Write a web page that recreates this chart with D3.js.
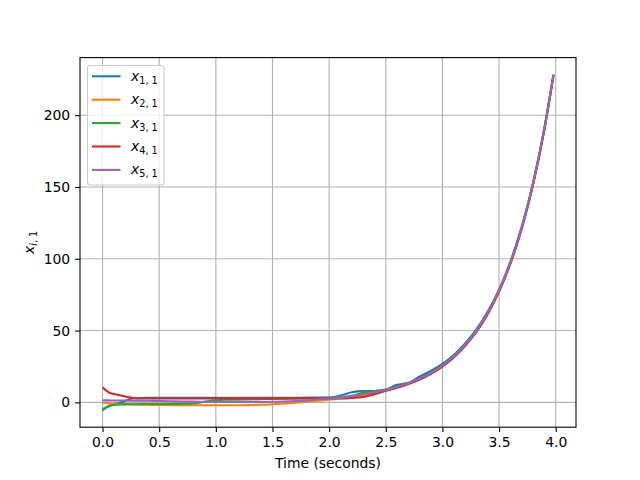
<!DOCTYPE html>
<html>
<head>
<meta charset="utf-8">
<script src="https://cdn.jsdelivr.net/npm/d3@7"></script>
<style>
  html, body { margin: 0; padding: 0; background: #ffffff; }
  svg { display: block; }
  text { font-family: "DejaVu Sans", sans-serif; }
</style>
</head>
<body>
<svg id="chart" width="640" height="480"></svg>
<script>
// ---- data ----
const time = [0, 0.05, 0.1, 0.15, 0.2, 0.25, 0.3, 0.4, 0.5, 0.6, 0.7, 0.8, 0.9, 1.0, 1.1, 1.2, 1.3, 1.4, 1.5, 1.6, 1.7, 1.8, 1.9, 2.0, 2.1, 2.2, 2.3, 2.4, 2.5, 2.6, 2.7, 2.8, 2.9, 3.0, 3.1, 3.2, 3.3, 3.4, 3.5, 3.6, 3.7, 3.8, 3.9, 3.98];

const x11 = [-5.6, -2.6, -1.3, -0.4, 1.0, 2.6, 3.0, 3.1, 3.1, 3.1, 3.1, 3.1, 3.1, 3.1, 3.1, 3.1, 3.1, 3.2, 3.2, 3.2, 3.2, 3.3, 3.3, 3.4, 4.8, 7.0, 7.8, 7.9, 8.9, 12.2, 13.6, 18.0, 22.0, 26.8, 33.0, 41.0, 50.8, 63.2, 78.7, 98.0, 122.4, 153.0, 191.2, 228.4];
const x21 = [-0.3, -0.6, -0.9, -1.1, -1.3, -1.4, -1.5, -1.7, -1.8, -1.9, -2.0, -2.0, -2.0, -2.0, -2.0, -2.0, -1.9, -1.7, -1.3, -0.8, -0.2, 0.4, 1.1, 1.8, 2.5, 3.3, 4.5, 6.3, 8.5, 10.5, 13.1, 16.3, 20.3, 25.3, 31.6, 39.6, 49.5, 61.9, 77.5, 96.9, 121.3, 151.9, 190.2, 227.8];
const x31 = [-4.6, -3.0, -1.9, -1.5, -1.4, -1.3, -1.3, -1.2, -1.2, -1.1, -1.0, -0.8, 0.4, 1.5, 1.8, 1.9, 2.0, 2.2, 2.4, 2.6, 2.8, 2.9, 3.0, 3.1, 3.6, 4.6, 6.6, 7.8, 8.8, 10.9, 13.5, 16.9, 20.9, 25.9, 32.2, 40.2, 50.1, 62.5, 78.1, 97.5, 121.9, 152.5, 190.8, 228.1];
const x41 = [10.6, 7.2, 5.8, 5.0, 4.1, 3.3, 2.8, 2.7, 2.7, 2.7, 2.7, 2.7, 2.7, 2.7, 2.7, 2.8, 2.8, 2.8, 2.8, 2.8, 2.8, 2.8, 2.8, 2.8, 2.9, 3.1, 3.7, 5.6, 8.0, 10.1, 12.7, 15.9, 19.9, 24.9, 31.2, 39.2, 49.0, 61.4, 77.0, 96.4, 120.8, 151.4, 189.8, 227.5];
const x51 = [1.4, 1.4, 1.3, 1.3, 1.3, 1.2, 1.2, 1.1, 1.0, 0.8, 0.6, 0.5, 0.4, 0.3, 0.3, 0.3, 0.3, 0.3, 0.4, 0.6, 0.9, 1.4, 2.0, 2.6, 3.3, 4.3, 5.6, 7.0, 8.6, 10.7, 13.3, 16.6, 20.6, 25.6, 31.9, 39.9, 49.8, 62.2, 77.8, 97.2, 121.6, 152.2, 190.5, 228.0];

const seriesSubs = ["1, 1", "2, 1", "3, 1", "4, 1", "5, 1"];
const seriesColors = ["#1f77b4", "#ff7f0e", "#2ca02c", "#d62728", "#9467bd"];
const xTicks = [0, 0.5, 1.0, 1.5, 2.0, 2.5, 3.0, 3.5, 4.0];
const yTicks = [0, 50, 100, 150, 200];
const xLabel = "Time (seconds)";

// ---- layout ----
const W = 640, H = 480;
const L = 80, R = 576, T = 57.6, B = 427.2;

const seriesValues = [x11, x21, x31, x41, x51];
const series = seriesValues.map((vals, i) => ({
  sub: seriesSubs[i], color: seriesColors[i],
  pts: vals.map((v, j) => [time[j], v])
}));

const tExt = d3.extent(time);
const allV = seriesValues.flat();
const vExt = d3.extent(allV);
const tPad = (tExt[1] - tExt[0]) * 0.05;
const vPad = (vExt[1] - vExt[0]) * 0.05;

const x = d3.scaleLinear().domain([tExt[0] - tPad, tExt[1] + tPad]).range([L, R]);
const y = d3.scaleLinear().domain([vExt[0] - vPad, vExt[1] + vPad]).range([B, T]);

const svg = d3.select("#chart");
svg.append("rect").attr("width", W).attr("height", H).attr("fill", "#fff");

// grid
const grid = svg.append("g");
xTicks.forEach(t => {
  grid.append("line").attr("x1", x(t)).attr("x2", x(t)).attr("y1", T).attr("y2", B)
    .attr("stroke", "#b0b0b0").attr("stroke-width", 1.1);
});
yTicks.forEach(t => {
  grid.append("line").attr("x1", L).attr("x2", R).attr("y1", y(t)).attr("y2", y(t))
    .attr("stroke", "#b0b0b0").attr("stroke-width", 1.1);
});

// clip
svg.append("clipPath").attr("id", "clip").append("rect")
  .attr("x", L).attr("y", T).attr("width", R - L).attr("height", B - T);

const line = d3.line().x(d => x(d[0])).y(d => y(d[1])).curve(d3.curveMonotoneX);
const lines = svg.append("g").attr("clip-path", "url(#clip)");
series.forEach(s => {
  lines.append("path").attr("d", line(s.pts)).attr("fill", "none")
    .attr("stroke", s.color).attr("stroke-width", 2.08)
    .attr("stroke-linejoin", "round").attr("stroke-linecap", "butt");
});

// axes
const xAxis = d3.axisBottom(x).tickValues(xTicks).tickFormat(d3.format(".1f")).tickSize(4.9).tickPadding(4.9);
const yAxis = d3.axisLeft(y).tickValues(yTicks).tickFormat(d3.format("d")).tickSize(4.9).tickPadding(4.9);

const gx = svg.append("g").attr("transform", `translate(0,${B})`).call(xAxis);
const gy = svg.append("g").attr("transform", `translate(${L},0)`).call(yAxis);
[gx, gy].forEach(g => {
  g.select(".domain").remove();
  g.selectAll(".tick line").attr("stroke", "#000").attr("stroke-width", 1.1);
  g.selectAll(".tick text").attr("fill", "#000").style("font-size", "13.9px")
    .style("font-family", "'DejaVu Sans', sans-serif");
});

// frame
svg.append("rect").attr("x", L).attr("y", T).attr("width", R - L).attr("height", B - T)
  .attr("fill", "none").attr("stroke", "#000").attr("stroke-width", 1.1);

// axis labels
svg.append("text").attr("x", (L + R) / 2).attr("y", 468).attr("text-anchor", "middle")
  .style("font-size", "13.9px").text(xLabel);

const yl = svg.append("text").attr("transform", `translate(34,${(T + B) / 2}) rotate(-90)`)
  .attr("text-anchor", "middle").style("font-size", "13.9px");
yl.append("tspan").attr("font-style", "italic").text("x");
yl.append("tspan").attr("dy", 3).style("font-size", "9.7px").attr("font-style", "italic").text("i");
yl.append("tspan").style("font-size", "9.7px").text(", 1");

// legend
const lg = svg.append("g");
lg.append("rect").attr("x", 87.5).attr("y", 65.5).attr("width", 76.5).attr("height", 119.5)
  .attr("rx", 3).attr("fill", "#fff").attr("fill-opacity", 0.8)
  .attr("stroke", "#cccccc").attr("stroke-width", 1.1);
series.forEach((s, i) => {
  const yy = 76.3 + i * 23.4;
  lg.append("line").attr("x1", 92).attr("x2", 120.5).attr("y1", yy).attr("y2", yy)
    .attr("stroke", s.color).attr("stroke-width", 2.08);
  const t = lg.append("text").attr("x", 131).attr("y", yy + 4.5).style("font-size", "13.9px");
  t.append("tspan").attr("font-style", "italic").text("x");
  t.append("tspan").attr("dy", 3).style("font-size", "9.7px").text(s.sub);
});
</script>
</body>
</html>
